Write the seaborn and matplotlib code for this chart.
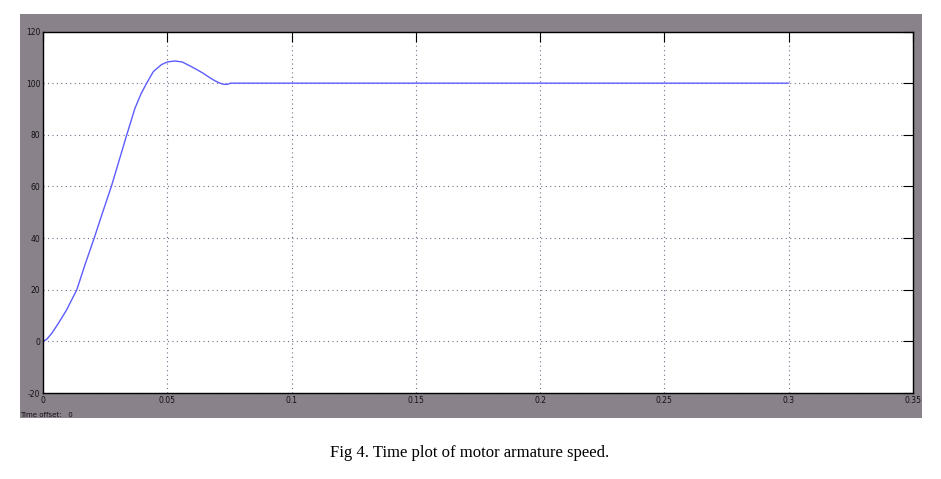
import numpy as np
import matplotlib
matplotlib.use('Agg')
import matplotlib.pyplot as plt
import matplotlib.patches as mpatches
import seaborn as sns
import pandas as pd

# speed response
time_s = [0.0, 0.0015, 0.0035, 0.0062, 0.0095, 0.0136, 0.017, 0.0206,
          0.024, 0.0275, 0.0306, 0.0337, 0.037, 0.0395, 0.0417, 0.0444,
          0.0477, 0.050, 0.053, 0.056, 0.0591, 0.0618, 0.0645, 0.0668,
          0.0692, 0.0712, 0.0725, 0.0740, 0.0755, 0.080, 0.1, 0.2, 0.3]
speed = [0.0, 0.8, 3.1, 7.0, 12.2, 20.0, 30.0, 40.0,
         50.0, 60.0, 70.0, 80.0, 90.3, 96.0, 100.0, 104.5,
         107.2, 108.2, 108.6, 108.2, 106.7, 105.3, 103.8, 102.3,
         100.9, 100.0, 99.6, 99.5, 100.0, 100.0, 100.0, 100.0, 100.0]

x_ticks = [0, 0.05, 0.1, 0.15, 0.2, 0.25, 0.3, 0.35]
x_labels = ['0', '0.05', '0.1', '0.15', '0.2', '0.25', '0.3', '0.35']
y_ticks = [-20, 0, 20, 40, 60, 80, 100, 120]

df = pd.DataFrame({'t': time_s, 'speed': speed})

sns.set_style('white')
plt.rcParams['font.family'] = ['DejaVu Sans']
plt.rcParams['axes.unicode_minus'] = False

fig = plt.figure(figsize=(9.41, 4.79), dpi=100)

# grey scope window behind the axes
panel = mpatches.Rectangle((0.02125, 0.1273), 0.9586, 0.8434,
                           transform=fig.transFigure, facecolor='#8a828a',
                           edgecolor='none', zorder=-5)
fig.patches.append(panel)

ax = fig.add_axes([0.0457, 0.1795, 0.9245, 0.7547])
ax.set_zorder(2)
ax.set_facecolor('white')

sns.lineplot(data=df, x='t', y='speed', ax=ax, color='#5c5cff',
             linewidth=1.0, estimator=None, sort=False)

ax.set_xlim(0, 0.35)
ax.set_ylim(-20, 120)
ax.set_xticks(x_ticks)
ax.set_xticklabels(x_labels)
ax.set_yticks(y_ticks)
ax.set_xlabel('')
ax.set_ylabel('')

ax.grid(True, linestyle=(0, (1, 3)), color='#7a6a8a', linewidth=0.8)
ax.tick_params(direction='in', length=7, width=0.8, color='black',
               top=True, right=True, labelsize=5.5, pad=2,
               labelcolor='#111111')
for s in ax.spines.values():
    s.set_color('black')
    s.set_linewidth(1.0)

fig.text(0.0215, 0.133, 'Time offset:   0', fontsize=5, color='#111111',
         va='center', ha='left')

fig.text(0.4995, 0.0543, 'Fig 4. Time plot of motor armature speed.',
         fontsize=12, family=['Liberation Serif', 'DejaVu Serif'],
         ha='center', va='center', color='black')

fig.savefig('out.png', dpi=100)
